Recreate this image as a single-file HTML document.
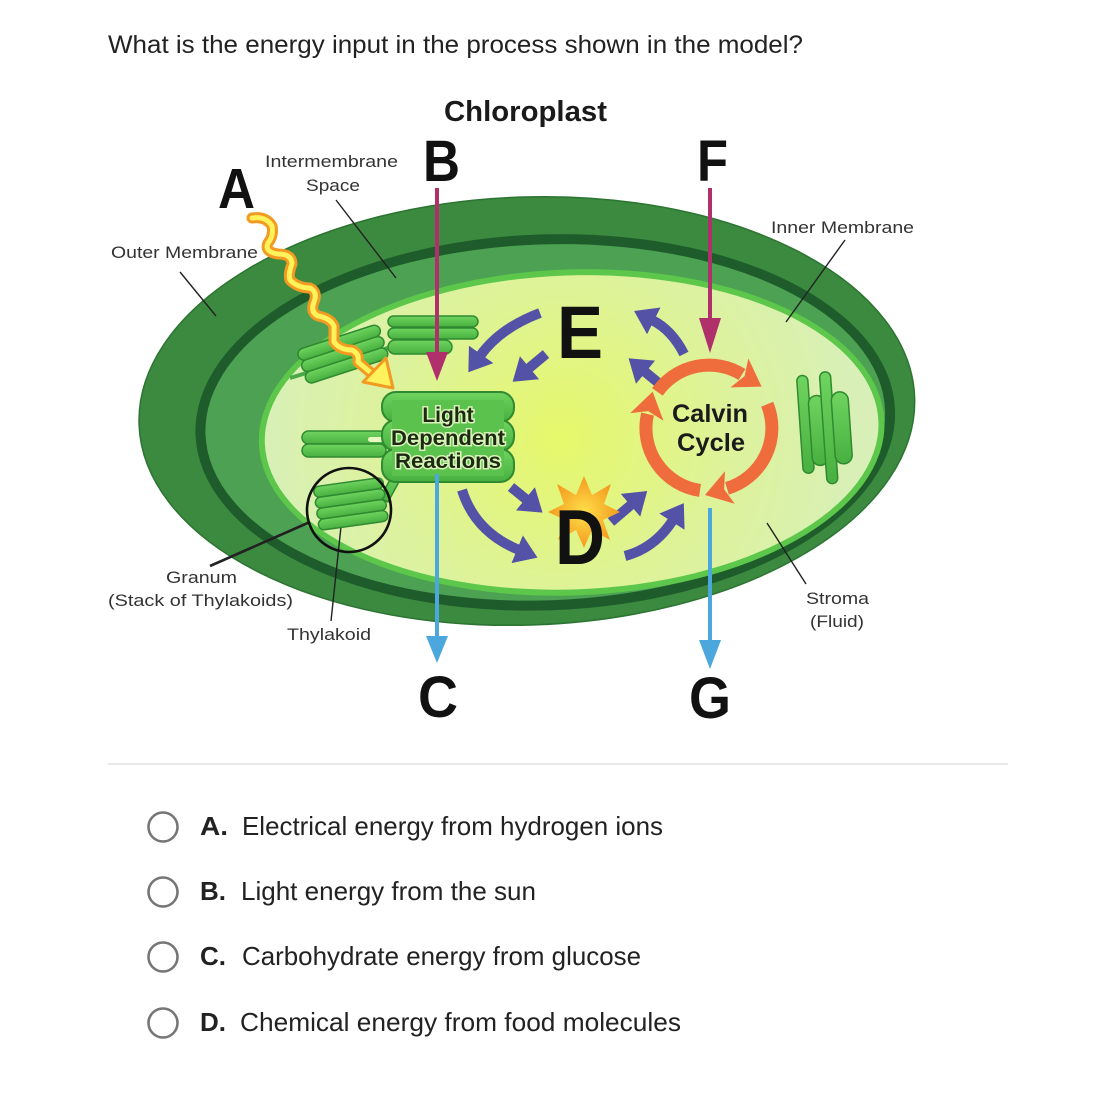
<!DOCTYPE html>
<html><head><meta charset="utf-8"><style>
html,body{margin:0;padding:0;background:#fff;width:1100px;height:1100px;overflow:hidden}
svg{display:block}
text{font-family:"Liberation Sans",Arial,sans-serif}
</style></head><body>
<svg width="1100" height="1100" viewBox="0 0 1100 1100" xmlns="http://www.w3.org/2000/svg">
<defs>
<radialGradient id="stroma" cx="560" cy="440" r="300" gradientUnits="userSpaceOnUse">
<stop offset="0" stop-color="#e6f86a"/><stop offset="0.5" stop-color="#def396"/><stop offset="1" stop-color="#d8f0b8"/>
</radialGradient>
<radialGradient id="star" cx="584" cy="512" r="36" gradientUnits="userSpaceOnUse">
<stop offset="0" stop-color="#ffe04a"/><stop offset="1" stop-color="#f39a1e"/>
</radialGradient>
<linearGradient id="pill" x1="0" y1="0" x2="0" y2="1">
<stop offset="0" stop-color="#6fd45f"/><stop offset="1" stop-color="#48b040"/>
</linearGradient>
<marker id="hb" markerWidth="22" markerHeight="30" refX="2" refY="15" orient="auto" markerUnits="userSpaceOnUse">
<path d="M0,0 L22,15 L0,30 Z" fill="#5352a6"/></marker>
<marker id="ho" markerWidth="26" markerHeight="34" refX="3" refY="17" orient="auto" markerUnits="userSpaceOnUse">
<path d="M0,0 L26,17 L0,34 L6,17 Z" fill="#ef6c3c"/></marker>
</defs>

<rect width="1100" height="1100" fill="#fff"/>

<text x="108" y="53" font-size="25" fill="#222" textLength="695" lengthAdjust="spacingAndGlyphs">What is the energy input in the process shown in the model?</text>

<text x="444" y="121" font-size="29" font-weight="bold" fill="#1a1a1a" textLength="163" lengthAdjust="spacingAndGlyphs">Chloroplast</text>

<g transform="rotate(-2 527 415)">
<ellipse cx="527" cy="411" rx="388" ry="214" fill="#3b8a3f" stroke="#2c7432" stroke-width="1.5"/>
<ellipse cx="545" cy="423" rx="350" ry="188" fill="#1f5c2c"/>
<ellipse cx="545" cy="423" rx="340" ry="178" fill="#4ca152"/>
<ellipse cx="571" cy="434" rx="313" ry="163" fill="#5cc74b"/>
<ellipse cx="571" cy="434" rx="307" ry="157" fill="url(#stroma)"/>
</g>

<g stroke="#222" stroke-width="1.4" fill="none">
<line x1="336" y1="200" x2="396" y2="278"/>
<line x1="180" y1="272" x2="216" y2="316"/>
<line x1="845" y1="240" x2="786" y2="322"/>
<line x1="806" y1="584" x2="767" y2="523"/>
<line x1="331" y1="621" x2="342" y2="517"/>
<line x1="210" y1="566" x2="310" y2="522" stroke-width="2.6"/>
</g>

<g fill="url(#pill)" stroke="#2f8a30" stroke-width="1.5">
<line x1="290" y1="378" x2="440" y2="332" stroke="#4aa848" stroke-width="4"/>
<g transform="rotate(-18 340 355)">
<rect x="300" y="337" width="86" height="12" rx="6"/>
<rect x="300" y="349" width="86" height="12" rx="6"/>
<rect x="300" y="361" width="86" height="12" rx="6"/>
</g>
<rect x="388" y="316" width="90" height="11" rx="5.5"/>
<rect x="388" y="328" width="90" height="11" rx="5.5"/>
<rect x="388" y="340" width="64" height="14" rx="7"/>
</g>

<g fill="url(#pill)" stroke="#2f8a30" stroke-width="1.5" transform="rotate(-4 825 425)">
<rect x="800" y="374" width="11" height="98" rx="5.5"/>
<rect x="810" y="395" width="16" height="70" rx="8"/>
<rect x="823" y="372" width="11" height="112" rx="5.5"/>
<rect x="833" y="393" width="17" height="72" rx="8.5"/>
</g>

<g fill="url(#pill)" stroke="#2f8a30" stroke-width="1.5">
<rect x="302" y="431" width="84" height="13" rx="6.5"/>
<rect x="302" y="444" width="84" height="13" rx="6.5"/>
<path d="M392,476 L380,498 L388,502 L400,480 Z"/>
</g>
<rect x="368" y="437" width="18" height="5" rx="2.5" fill="#e8f8c0"/>

<g fill="url(#pill)" stroke="#2f8a30" stroke-width="1.5" transform="rotate(-8 350 505)">
<rect x="316" y="482" width="70" height="11" rx="5.5"/>
<rect x="316" y="493" width="70" height="11" rx="5.5"/>
<rect x="316" y="504" width="70" height="11" rx="5.5"/>
<rect x="316" y="515" width="70" height="11" rx="5.5"/>
</g>
<circle cx="349" cy="510" r="42" fill="none" stroke="#111" stroke-width="2.6"/>

<g fill="url(#pill)" stroke="#2f8a30" stroke-width="2">
<rect x="382" y="392" width="132" height="30" rx="14"/>
<rect x="382" y="420" width="132" height="31" rx="14"/>
<rect x="382" y="449" width="132" height="33" rx="14"/>
</g>
<rect x="392" y="400" width="112" height="76" fill="#5cc24e"/>
<g font-weight="bold" font-size="21" fill="#1b2a10" stroke="#d8f3b8" stroke-width="3" paint-order="stroke" text-anchor="middle">
<text x="448" y="422">Light</text>
<text x="448" y="445" textLength="114" lengthAdjust="spacingAndGlyphs">Dependent</text>
<text x="448" y="468" textLength="106" lengthAdjust="spacingAndGlyphs">Reactions</text>
</g>

<g stroke-linejoin="round" stroke-linecap="round" fill="none">
<path id="wave" d="M252,218 Q266,216 272,226 Q274,236 268,243 Q264,252 278,254 Q292,254 292,264 Q288,274 290,280 Q298,288 310,288 Q318,292 314,302 Q310,312 318,316 Q330,318 334,326 Q334,338 334,342 Q340,350 352,350 Q360,354 358,362 L370,372" stroke="#f29a22" stroke-width="11"/>
<path d="M252,218 Q266,216 272,226 Q274,236 268,243 Q264,252 278,254 Q292,254 292,264 Q288,274 290,280 Q298,288 310,288 Q318,292 314,302 Q310,312 318,316 Q330,318 334,326 Q334,338 334,342 Q340,350 352,350 Q360,354 358,362 L370,372" stroke="#fff25a" stroke-width="5"/>
</g>
<polygon points="393,388 363,382 386,358" fill="#fff25a" stroke="#f29a22" stroke-width="3" stroke-linejoin="round"/>

<g stroke="#b0306c" stroke-width="4">
<line x1="437" y1="188" x2="437" y2="356"/>
<line x1="710" y1="188" x2="710" y2="322"/>
</g>
<polygon points="426,352 448,352 437,381" fill="#b0306c"/>
<polygon points="699,318 721,318 710,353" fill="#b0306c"/>

<g stroke="#4ca8dc" stroke-width="4">
<line x1="437" y1="474" x2="437" y2="640"/>
<line x1="710" y1="508" x2="710" y2="644"/>
</g>
<polygon points="426,636 448,636 437,663" fill="#4ca8dc"/>
<polygon points="699,640 721,640 710,669" fill="#4ca8dc"/>

<g stroke="#5352a6" stroke-width="10" fill="none" marker-end="url(#hb)">
<path d="M540,313 Q500,328 480,356"/>
<path d="M546,354 L528,369"/>
<path d="M684,354 Q672,330 652,320"/>
<path d="M661,385 L644,371"/>
<path d="M462,490 Q475,532 519,550"/>
<path d="M511,487 L527,500"/>
<path d="M611,522 L632,504"/>
<path d="M625,556 Q655,548 673,520"/>
</g>

<polygon points="584,476 592,495 611,484 604,504 620,512 603,520 610,540 592,530 584,548 576,530 558,540 565,520 548,512 564,504 557,484 576,495" fill="url(#star)"/>

<g stroke="#ef6c3c" stroke-width="13" fill="none" marker-end="url(#ho)">
<path d="M657.4,391.9 A63,63 0 0,1 742.0,374.5"/>
<path d="M767.2,404.2 A63,63 0 0,1 727.0,488.4"/>
<path d="M700.0,490.4 A63,63 0 0,1 647.5,414.0"/>
</g>
<g font-weight="bold" font-size="25" fill="#1a1a1a" text-anchor="middle">
<text x="710" y="422" textLength="76" lengthAdjust="spacingAndGlyphs">Calvin</text>
<text x="711" y="451" textLength="68" lengthAdjust="spacingAndGlyphs">Cycle</text>
</g>

<g font-weight="bold" fill="#111">
<text x="218" y="208" font-size="57" textLength="37" lengthAdjust="spacingAndGlyphs">A</text>
<text x="423" y="181" font-size="58" textLength="37" lengthAdjust="spacingAndGlyphs">B</text>
<text x="697" y="181" font-size="58" textLength="31" lengthAdjust="spacingAndGlyphs">F</text>
<text x="557" y="358" font-size="74" textLength="46" lengthAdjust="spacingAndGlyphs">E</text>
<text x="555" y="564" font-size="78" textLength="50" lengthAdjust="spacingAndGlyphs">D</text>
<text x="418" y="717" font-size="58" textLength="40" lengthAdjust="spacingAndGlyphs">C</text>
<text x="689" y="718" font-size="58" textLength="42" lengthAdjust="spacingAndGlyphs">G</text>
</g>

<g font-size="17" fill="#333">
<text x="265" y="167" textLength="133" lengthAdjust="spacingAndGlyphs">Intermembrane</text>
<text x="306" y="191" textLength="54" lengthAdjust="spacingAndGlyphs">Space</text>
<text x="111" y="258" textLength="147" lengthAdjust="spacingAndGlyphs">Outer Membrane</text>
<text x="771" y="233" textLength="143" lengthAdjust="spacingAndGlyphs">Inner Membrane</text>
<text x="166" y="583" textLength="71" lengthAdjust="spacingAndGlyphs">Granum</text>
<text x="108" y="606" textLength="185" lengthAdjust="spacingAndGlyphs">(Stack of Thylakoids)</text>
<text x="287" y="640" textLength="84" lengthAdjust="spacingAndGlyphs">Thylakoid</text>
<text x="806" y="604" textLength="63" lengthAdjust="spacingAndGlyphs">Stroma</text>
<text x="810" y="627" textLength="54" lengthAdjust="spacingAndGlyphs">(Fluid)</text>
</g>

<line x1="108" y1="764" x2="1008" y2="764" stroke="#e2e2e2" stroke-width="1.5"/>

<g fill="none" stroke="#767676" stroke-width="2.6">
<circle cx="163" cy="827" r="14.5"/>
<circle cx="163" cy="892" r="14.5"/>
<circle cx="163" cy="957" r="14.5"/>
<circle cx="163" cy="1023" r="14.5"/>
</g>
<g font-size="26" fill="#222">
<text x="200" y="835" font-weight="bold" textLength="28" lengthAdjust="spacingAndGlyphs">A.</text>
<text x="242" y="835" textLength="421" lengthAdjust="spacingAndGlyphs">Electrical energy from hydrogen ions</text>
<text x="200" y="900" font-weight="bold" textLength="26" lengthAdjust="spacingAndGlyphs">B.</text>
<text x="241" y="900" textLength="295" lengthAdjust="spacingAndGlyphs">Light energy from the sun</text>
<text x="200" y="965" font-weight="bold" textLength="26" lengthAdjust="spacingAndGlyphs">C.</text>
<text x="242" y="965" textLength="399" lengthAdjust="spacingAndGlyphs">Carbohydrate energy from glucose</text>
<text x="200" y="1031" font-weight="bold" textLength="26" lengthAdjust="spacingAndGlyphs">D.</text>
<text x="240" y="1031" textLength="441" lengthAdjust="spacingAndGlyphs">Chemical energy from food molecules</text>
</g>
</svg>
</body></html>
